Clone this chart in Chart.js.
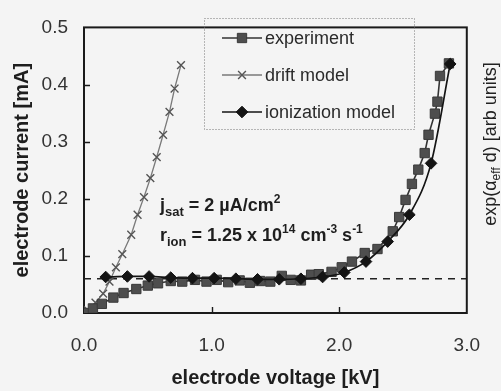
<!DOCTYPE html>
<html>
<head>
<meta charset="utf-8">
<script src="https://cdn.jsdelivr.net/npm/chart.js@4.4.1/dist/chart.umd.min.js"></script>
<style>
  html, body { margin: 0; padding: 0; background: #f4f4f4; }
  #wrap { width: 501px; height: 391px; }
</style>
</head>
<body>
<div id="wrap"><canvas id="c" width="501" height="391"></canvas></div>
<script>
// values (kV / mA)
const expV = [0, 0.07, 0.14, 0.23, 0.31, 0.41, 0.5, 0.58, 0.68, 0.77, 0.87, 0.96, 1.04, 1.13, 1.22, 1.3, 1.38, 1.46, 1.55, 1.62, 1.7, 1.78, 1.84, 1.94, 2.02, 2.1, 2.2, 2.3, 2.42, 2.47, 2.52, 2.57, 2.62, 2.67, 2.7, 2.75, 2.77, 2.79, 2.86];
const expI = [0, 0.008, 0.016, 0.027, 0.035, 0.042, 0.048, 0.052, 0.056, 0.055, 0.058, 0.055, 0.058, 0.054, 0.057, 0.053, 0.056, 0.055, 0.065, 0.058, 0.057, 0.067, 0.068, 0.072, 0.08, 0.09, 0.105, 0.112, 0.143, 0.168, 0.198, 0.226, 0.251, 0.28, 0.312, 0.349, 0.37, 0.415, 0.437];

const driftV = [0, 0.03, 0.09, 0.15, 0.2, 0.25, 0.3, 0.37, 0.42, 0.47, 0.52, 0.57, 0.62, 0.67, 0.71, 0.76];
const driftI = [0, 0.005, 0.018, 0.034, 0.055, 0.08, 0.103, 0.137, 0.172, 0.203, 0.236, 0.273, 0.312, 0.352, 0.393, 0.434];

const ionV = [0.17, 0.34, 0.51, 0.68, 0.85, 1.02, 1.19, 1.36, 1.53, 1.7, 1.87, 2.04, 2.21, 2.38, 2.55, 2.72, 2.87];
const ionI = [0.063, 0.064, 0.064, 0.062, 0.061, 0.061, 0.06, 0.059, 0.059, 0.06, 0.063, 0.071, 0.09, 0.125, 0.172, 0.262, 0.436];

const satV = [0, 3];
const satI = [0.06, 0.06];

const xTicks = [0, 1, 2, 3];
const yTicks = [0, 0.1, 0.2, 0.3, 0.4, 0.5];

const FONT = "'Liberation Sans', Arial, sans-serif";
const pts = (xs, ys) => xs.map((x, i) => ({ x: x, y: ys[i] }));

// draws text made of runs (sub/superscripts), left aligned on a baseline
function richText(ctx, x, y, runs, color){
    ctx.fillStyle = color || '#222';
    ctx.textBaseline = 'alphabetic';
    ctx.textAlign = 'left';
    let cx = x;
    runs.forEach(r => {
        ctx.font = (r.bold ? 'bold ' : '') + r.size + 'px ' + FONT;
        ctx.fillText(r.t, cx, y + (r.dy || 0));
        cx += ctx.measureText(r.t).width;
    });
    return cx - x;
}
function richWidth(ctx, runs){
    let w = 0;
    runs.forEach(r => {
        ctx.font = (r.bold ? 'bold ' : '') + r.size + 'px ' + FONT;
        w += ctx.measureText(r.t).width;
    });
    return w;
}

const decor = {
    id: 'decor',
    beforeDraw(chart){
        const ctx = chart.ctx;
        ctx.save();
        ctx.fillStyle = '#f4f4f4';
        ctx.fillRect(0, 0, chart.width, chart.height);
        ctx.restore();
    },
    beforeDatasetsDraw(chart){
        const {ctx, chartArea: a, scales: {x, y}} = chart;
        ctx.save();
        ctx.strokeStyle = '#1a1a1a';
        ctx.lineWidth = 2;
        ctx.strokeRect(a.left, a.top, a.right - a.left, a.bottom - a.top);
        // inward tick marks
        ctx.lineWidth = 1.4;
        ctx.beginPath();
        yTicks.slice(1, -1).forEach(v => {
            const py = Math.round(y.getPixelForValue(v)) + 0.5;
            ctx.moveTo(a.left, py); ctx.lineTo(a.left + 6, py);
        });
        xTicks.slice(1, -1).forEach(v => {
            const px = Math.round(x.getPixelForValue(v)) + 0.5;
            ctx.moveTo(px, a.bottom); ctx.lineTo(px, a.bottom - 6);
        });
        ctx.stroke();
        ctx.restore();
    },
    afterDatasetsDraw(chart){
        const ctx = chart.ctx;
        ctx.save();
        // legend box
        ctx.setLineDash([1, 2]);
        ctx.strokeStyle = '#777';
        ctx.lineWidth = 1;
        ctx.strokeRect(204.5, 18.5, 210, 111);
        ctx.setLineDash([]);
        const rows = [
            { ds: chart.data.datasets[0], y: 38 },
            { ds: chart.data.datasets[1], y: 75 },
            { ds: chart.data.datasets[2], y: 112 }
        ];
        rows.forEach(r => {
            const ds = r.ds;
            ctx.strokeStyle = ds.borderColor;
            ctx.lineWidth = ds.borderWidth;
            ctx.beginPath();
            ctx.moveTo(222, r.y); ctx.lineTo(262, r.y);
            ctx.stroke();
            ctx.fillStyle = ds.pointBackgroundColor;
            ctx.strokeStyle = ds.pointBorderColor;
            ctx.lineWidth = ds.pointBorderWidth;
            Chart.helpers.drawPoint(ctx, { pointStyle: ds.pointStyle, radius: ds.pointRadius, borderWidth: ds.pointBorderWidth, rotation: 0 }, 242, r.y);
            ctx.fillStyle = '#2a2a2a';
            ctx.font = '18px ' + FONT;
            ctx.textBaseline = 'middle';
            ctx.textAlign = 'left';
            ctx.fillText(ds.label, 265, r.y + 1);
        });

        // fit parameters
        richText(ctx, 160, 211, [
            { t: 'j', size: 18, bold: true },
            { t: 'sat', size: 13, bold: true, dy: 5 },
            { t: ' = 2 \u00b5A/cm', size: 18, bold: true },
            { t: '2', size: 12, bold: true, dy: -8 }
        ], '#1e1e1e');
        richText(ctx, 160, 241, [
            { t: 'r', size: 18, bold: true },
            { t: 'ion', size: 13, bold: true, dy: 5 },
            { t: ' = 1.25 x 10', size: 18, bold: true },
            { t: '14', size: 12, bold: true, dy: -8 },
            { t: ' cm', size: 18, bold: true },
            { t: '-3', size: 12, bold: true, dy: -8 },
            { t: ' s', size: 18, bold: true },
            { t: '-1', size: 12, bold: true, dy: -8 }
        ], '#1e1e1e');

        // right hand axis title
        const rt = [
            { t: 'exp(\u03b1', size: 18 },
            { t: 'eff', size: 12, dy: 4 },
            { t: ' d) [arb units]', size: 18 }
        ];
        ctx.translate(496, 144);
        ctx.rotate(-Math.PI / 2);
        richText(ctx, -richWidth(ctx, rt) / 2, 0, rt, '#222');
        ctx.restore();
    }
};

new Chart(document.getElementById('c'), {
    type: 'scatter',
    data: {
        datasets: [
            {
                label: 'experiment',
                data: pts(expV, expI),
                showLine: true,
                borderColor: '#333333',
                borderWidth: 1.6,
                pointStyle: 'rect',
                pointRadius: 6.6,
                pointBackgroundColor: '#4e4e4e',
                pointBorderColor: '#3a3a3a',
                pointBorderWidth: 1,
                tension: 0,
                order: 2
            },
            {
                label: 'drift model',
                data: pts(driftV, driftI),
                showLine: true,
                borderColor: '#7a7a7a',
                borderWidth: 1.3,
                pointStyle: 'crossRot',
                pointRadius: 5.5,
                pointBackgroundColor: '#555555',
                pointBorderColor: '#555555',
                pointBorderWidth: 1.4,
                tension: 0,
                order: 3
            },
            {
                label: 'ionization model',
                data: pts(ionV, ionI),
                showLine: true,
                borderColor: '#141414',
                borderWidth: 1.7,
                pointStyle: 'rectRot',
                pointRadius: 5.8,
                pointBackgroundColor: '#141414',
                pointBorderColor: '#141414',
                pointBorderWidth: 1,
                cubicInterpolationMode: 'monotone',
                order: 1
            },
            {
                label: 'saturation',
                data: pts(satV, satI),
                showLine: true,
                borderColor: '#222',
                borderWidth: 1.5,
                borderDash: [7, 6],
                pointRadius: 0,
                order: 4
            }
        ]
    },
    options: {
        responsive: false,
        animation: false,
        devicePixelRatio: 1,
        layout: { padding: { top: 12, right: 33, left: 0, bottom: 0 } },
        plugins: { legend: { display: false }, tooltip: { enabled: false } },
        scales: {
            x: {
                type: 'linear',
                min: 0, max: 3,
                afterFit: s => { s.height = 78; },
                afterBuildTicks: s => { s.ticks = xTicks.map(v => ({ value: v })); },
                grid: { display: false, drawTicks: false },
                border: { display: false },
                ticks: {
                    padding: 21,
                    color: '#333',
                    font: { family: FONT, size: 19 },
                    callback: v => v.toFixed(1)
                },
                title: {
                    display: true,
                    text: 'electrode voltage [kV]',
                    color: '#1e1e1e',
                    font: { family: FONT, size: 20, weight: 'bold' },
                    padding: { top: 0, bottom: 1 }
                }
            },
            y: {
                type: 'linear',
                min: 0, max: 0.5,
                afterFit: s => { s.width = 84; },
                afterBuildTicks: s => { s.ticks = yTicks.map(v => ({ value: v })); },
                grid: { display: false, drawTicks: false },
                border: { display: false },
                ticks: {
                    padding: 16,
                    color: '#333',
                    font: { family: FONT, size: 19 },
                    callback: v => v.toFixed(1)
                },
                title: {
                    display: true,
                    text: 'electrode current [mA]',
                    color: '#1e1e1e',
                    font: { family: FONT, size: 20, weight: 'bold' },
                    padding: { top: 10, bottom: 0 }
                }
            }
        }
    },
    plugins: [decor]
});
</script>
</body>
</html>
